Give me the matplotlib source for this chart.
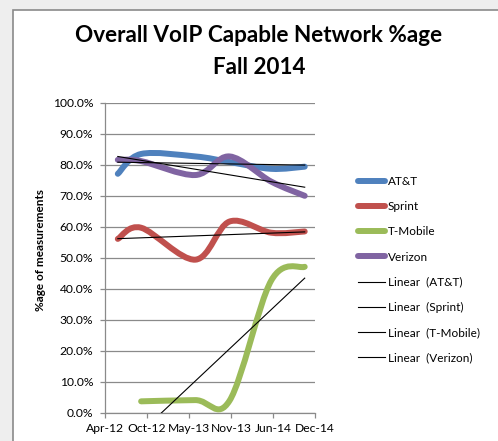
"""Overall VoIP capable network share by carrier, Fall 2014 (Excel-style smoothed lines)."""
import datetime as dt

import matplotlib
matplotlib.use("Agg")
import matplotlib.dates as mdates
import matplotlib.pyplot as plt
import numpy as np
from matplotlib.lines import Line2D
from matplotlib.patches import PathPatch, Rectangle
from matplotlib.path import Path
from matplotlib.ticker import FuncFormatter, MultipleLocator

dates = ["2012-06-01", "2012-09-20", "2013-06-05", "2013-11-15", "2014-06-01", "2014-11-08"]
carriers = ["AT&T", "Sprint", "T-Mobile", "Verizon"]
att = [77.0, 83.4, 82.6, 80.8, 78.6, 79.3]
sprint = [56.0, 59.6, 49.3, 61.6, 58.0, 58.4]
tmobile = [None, 3.6, 4.0, 3.8, 42.5, 47.0]
verizon = [81.5, 81.1, 76.6, 82.6, 74.5, 69.9]
colors = ["#4F81BD", "#C0504D", "#9BBB59", "#8064A2"]

W, H = 498, 441
FONT = "Lato"


def smooth_path(x, y):
    """Excel-like smoothed line as cubic Bezier segments through the points."""
    pts = np.column_stack([x, y])
    n = len(pts)
    verts = [pts[0]]
    codes = [Path.MOVETO]
    for i in range(n - 1):
        p0 = pts[max(i - 1, 0)]
        p1 = pts[i]
        p2 = pts[i + 1]
        p3 = pts[min(i + 2, n - 1)]
        verts += [p1 + (p2 - p0) / 6, p2 - (p3 - p1) / 6, p2]
        codes += [Path.CURVE4] * 3
    return Path(verts, codes)


fig = plt.figure(figsize=(W / 100, H / 100), dpi=100, facecolor="#eeeeee")
# white chart sheet with grey frame, cut off at right / bottom like the screenshot
fig.patches.append(Rectangle((13 / W, -0.05), 1.0, 1.05 - 10 / H, transform=fig.transFigure,
                             facecolor="white", edgecolor="#8a8a8a", lw=1.2, zorder=-5))

ax = fig.add_axes([105 / W, 1 - 412.5 / H, 210 / W, 310 / H])
ax.set_facecolor("none")

xnum = mdates.date2num([dt.date.fromisoformat(d) for d in dates])
series = [att, sprint, tmobile, verizon]

for vals, col in zip(series, colors):
    mask = [v is not None for v in vals]
    xs = xnum[mask]
    ys = np.array([v for v in vals if v is not None])
    ax.add_patch(PathPatch(smooth_path(xs, ys), facecolor="none", edgecolor=col,
                           lw=4.3, capstyle="round", joinstyle="round", zorder=3))
    # linear trendline on the date values
    k, b = np.polyfit(xs, ys, 1)
    ax.plot([xs[0], xs[-1]], [k * xs[0] + b, k * xs[-1] + b], color="black",
            lw=0.8, zorder=4)

x0 = mdates.date2num(dt.date(2012, 4, 1))
ax.set_xlim(x0, x0 + 1000)
ax.set_ylim(0, 100)
ax.set_xticks([x0 + 200 * i for i in range(6)])
ax.xaxis.set_major_formatter(mdates.DateFormatter("%b-%y"))
ax.yaxis.set_major_locator(MultipleLocator(10))
ax.yaxis.set_major_formatter(FuncFormatter(lambda v, _: f"{v:.1f}%"))

ax.grid(axis="y", color="#8a8a8a", lw=0.9, zorder=1)
ax.set_axisbelow(True)
for s in ["top", "right"]:
    ax.spines[s].set_visible(False)
for s in ["left", "bottom"]:
    ax.spines[s].set_color("#8a8a8a")
    ax.spines[s].set_linewidth(0.9)
ax.tick_params(axis="both", color="#8a8a8a", length=3.5, width=0.9, labelsize=8.7,
               direction="out")
ax.tick_params(axis="y", pad=5)
ax.tick_params(axis="x", pad=4)
for lab in ax.get_xticklabels() + ax.get_yticklabels():
    lab.set_fontfamily(FONT)

fig.text(41 / W, 1 - 250 / H, "%age of measurements", rotation=90, ha="center",
         va="center", fontsize=8.5, fontweight="bold", family=FONT)

fig.text(259 / W, 1 - 42 / H, "Overall VoIP Capable Network %age", ha="center",
         va="baseline", fontsize=16.2, fontweight="bold", family=FONT)
fig.text(259 / W, 1 - 74 / H, "Fall 2014", ha="center", va="baseline",
         fontsize=16.2, fontweight="bold", family=FONT)

handles = [Line2D([], [], color=c, lw=4.3, solid_capstyle="round") for c in colors]
handles += [Line2D([], [], color="black", lw=0.8) for _ in carriers]
labels = carriers + [f"Linear  ({c})" for c in carriers]
leg = fig.legend(handles, labels, loc="upper left", bbox_to_anchor=(358 / W, 1 - 176 / H),
                 frameon=False, handlelength=2.3, handletextpad=0.2,
                 labelspacing=1.2, borderaxespad=0, borderpad=0,
                 prop={"family": FONT, "size": 8.5})

fig.savefig("out.png", dpi=100, facecolor=fig.get_facecolor())
